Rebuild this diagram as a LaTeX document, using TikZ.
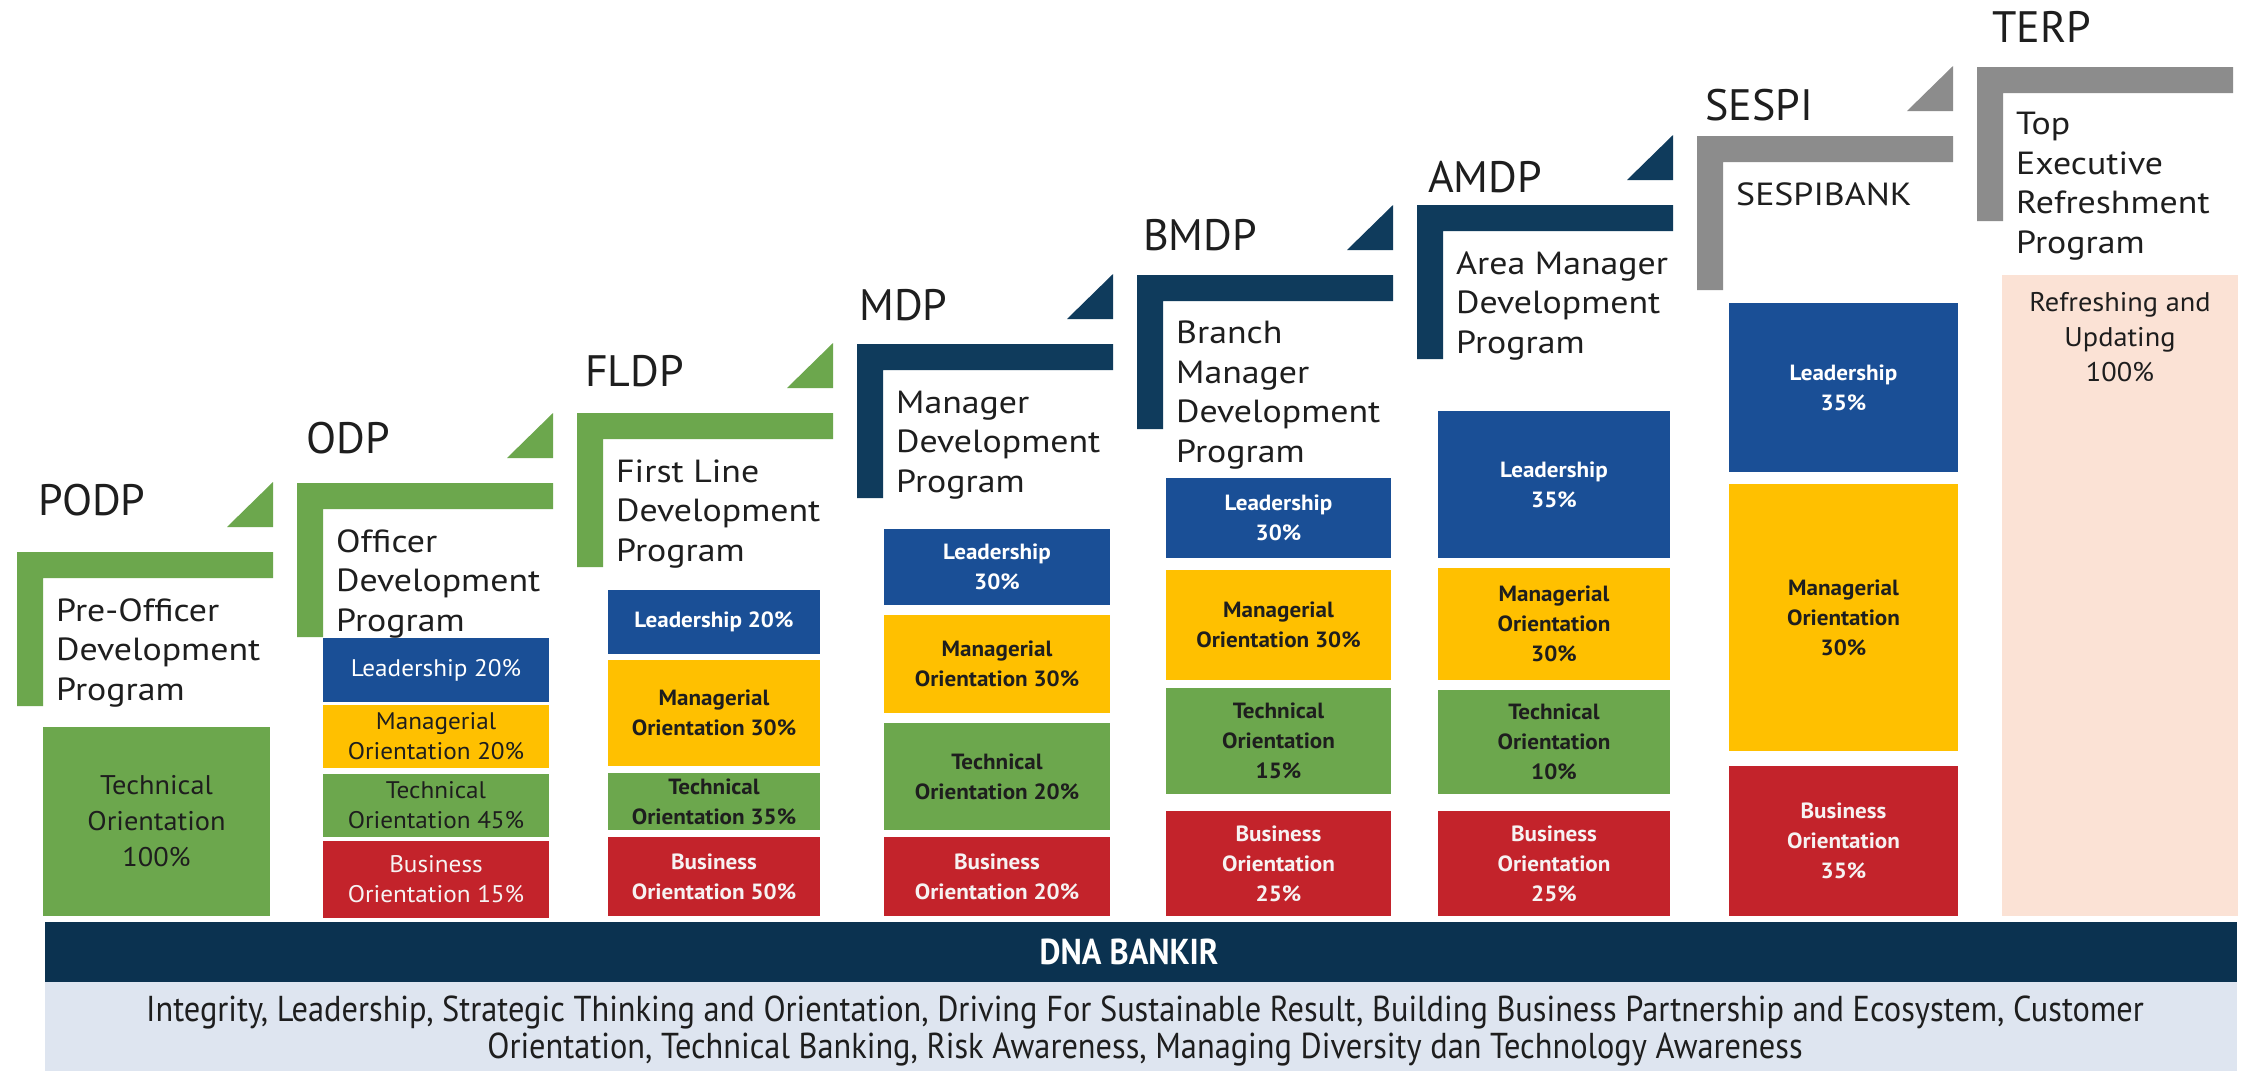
\documentclass[tikz,border=0pt]{standalone}
\usepackage{fontspec}
\setmainfont{PT Sans}
\newfontfamily\progfam[FakeStretch=1.12]{PT Sans}
\newfontfamily\cellfam[FakeStretch=1.05]{PT Sans}
\newfontfamily\narrowfam[FakeStretch=0.9]{PT Sans}
\definecolor{cgreen}{HTML}{6CA74D}
\definecolor{cblue}{HTML}{1A4F96}
\definecolor{cyellow}{HTML}{FFC000}
\definecolor{cred}{HTML}{C3232B}
\definecolor{cnavy}{HTML}{0F3B5C}
\definecolor{cdna}{HTML}{0B3250}
\definecolor{cgrey}{HTML}{8C8C8C}
\definecolor{cpeach}{HTML}{FBE2D5}
\definecolor{cband}{HTML}{DEE5F0}
\definecolor{ctxt}{HTML}{1E1E1E}
\definecolor{cwhite}{HTML}{F6F2F2}
\newcommand{\labfnt}{\fontsize{44}{48}\selectfont}
\newcommand{\progfnt}{\progfam\fontsize{32}{39.5}\selectfont}
\newcommand{\cellfnt}{\cellfam\bfseries\fontsize{22}{30}\selectfont}
\newcommand{\odpfnt}{\cellfam\fontsize{24}{30}\selectfont}
\newcommand{\podpfnt}{\cellfam\fontsize{27}{36}\selectfont}
\newcommand{\BRK}[3]{\fill[#3] (#1,#2) -- (#1+256,#2) -- (#1+256,#2+26) -- (#1+26,#2+26) -- (#1+26,#2+154) -- (#1,#2+154) -- cycle;}
\newcommand{\TRI}[3]{\fill[#3] (#1+256,#2-70) -- (#1+256,#2-25) -- (#1+210,#2-25) -- cycle;}
\newcommand{\CELL}[7]{\pgfmathsetmacro{\cellW}{#4-#2}\pgfmathsetmacro{\cellH}{#5-#3}%
  \node[#6,minimum width=\cellW pt,minimum height=\cellH pt] (#1) at ({(#2+#4)/2},{(#3+#5)/2}) {#7};}
\tikzset{
  lbl/.style={anchor=base west, inner sep=0pt, font=\labfnt, text=ctxt},
  prog/.style={anchor=base west, inner sep=0pt, align=left, font=\progfnt, text=ctxt},
  cell/.style={inner sep=0pt, align=center, draw=none, font=\cellfnt},
  lead/.style={cell, fill=cblue, text=white},
  mgr/.style={cell, fill=cyellow, text=ctxt},
  tech/.style={cell, fill=cgreen, text=ctxt},
  biz/.style={cell, fill=cred, text=cwhite},
}
\begin{document}
\begin{tikzpicture}[x=1pt,y=-1pt]
\useasboundingbox (0,0) rectangle (2244,1071);
\fill[white] (0,0) rectangle (2244,1071);
% brackets and triangles
\BRK{17}{552}{cgreen}   \TRI{17}{552}{cgreen}
\BRK{297}{483}{cgreen}  \TRI{297}{483}{cgreen}
\BRK{577}{413}{cgreen}  \TRI{577}{413}{cgreen}
\BRK{857}{344}{cnavy}   \TRI{857}{344}{cnavy}
\BRK{1137}{275}{cnavy}  \TRI{1137}{275}{cnavy}
\BRK{1417}{205}{cnavy}  \TRI{1417}{205}{cnavy}
\BRK{1697}{136}{cgrey}  \TRI{1697}{136}{cgrey}
\BRK{1977}{67}{cgrey}
% labels
\node[lbl] (lpodp) at (38,515) {PODP};
\node[lbl] (lodp) at (306,453) {ODP};
\node[lbl] (lfldp) at (585,386) {FLDP};
\node[lbl] (lmdp) at (859,320) {MDP};
\node[lbl] (lbmdp) at (1143,250) {BMDP};
\node[lbl] (lamdp) at (1428,192) {AMDP};
\node[lbl] (lsespi) at (1705,120) {SESPI};
\node[lbl] (lterp) at (1992,42) {TERP};
% program names (anchor = baseline of last line)
\node[prog] (ppodp) at (56,700) {Pre-Officer\\Development\\Program};
\node[prog] (podp) at (336,631) {Officer\\Development\\Program};
\node[prog] (pfldp) at (616,561) {First Line\\Development\\Program};
\node[prog] (pmdp) at (896,492) {Manager\\Development\\Program};
\node[prog] (pbmdp) at (1176,462) {Branch\\Manager\\Development\\Program};
\node[prog] (pamdp) at (1456,353) {Area Manager\\Development\\Program};
\node[prog] (psespi) at (1736,205) {SESPIBANK};
\node[prog] (pterp) at (2016,253) {Top\\Executive\\Refreshment\\Program};
% PODP
\CELL{podpT}{43}{727}{270}{916}{tech,font=\podpfnt}{Technical\\Orientation\\100\%}
% ODP
\CELL{odpL}{323}{638}{549}{702}{lead,font=\odpfnt}{Leadership 20\%}
\CELL{odpM}{323}{705}{549}{768}{mgr,font=\odpfnt}{Managerial\\Orientation 20\%}
\CELL{odpT}{323}{774}{549}{837}{tech,font=\odpfnt}{Technical\\Orientation 45\%}
\CELL{odpB}{323}{841}{549}{918}{biz,font=\odpfnt}{Business\\Orientation 15\%}
% FLDP
\CELL{fldpL}{608}{590}{820}{654}{lead}{Leadership 20\%}
\CELL{fldpM}{608}{660}{820}{766}{mgr}{Managerial\\Orientation 30\%}
\CELL{fldpT}{608}{773}{820}{830}{tech}{Technical\\Orientation 35\%}
\CELL{fldpB}{608}{837}{820}{916}{biz}{Business\\Orientation 50\%}
% MDP
\CELL{mdpL}{884}{529}{1110}{605}{lead}{Leadership\\30\%}
\CELL{mdpM}{884}{615}{1110}{713}{mgr}{Managerial\\Orientation 30\%}
\CELL{mdpT}{884}{723}{1110}{830}{tech}{Technical\\Orientation 20\%}
\CELL{mdpB}{884}{837}{1110}{916}{biz}{Business\\Orientation 20\%}
% BMDP
\CELL{bmdpL}{1166}{478}{1391}{558}{lead}{Leadership\\30\%}
\CELL{bmdpM}{1166}{570}{1391}{680}{mgr}{Managerial\\Orientation 30\%}
\CELL{bmdpT}{1166}{688}{1391}{794}{tech}{Technical\\Orientation\\15\%}
\CELL{bmdpB}{1166}{811}{1391}{916}{biz}{Business\\Orientation\\25\%}
% AMDP
\CELL{amdpL}{1438}{411}{1670}{558}{lead}{Leadership\\35\%}
\CELL{amdpM}{1438}{568}{1670}{680}{mgr}{Managerial\\Orientation\\30\%}
\CELL{amdpT}{1438}{690}{1670}{794}{tech}{Technical\\Orientation\\10\%}
\CELL{amdpB}{1438}{811}{1670}{916}{biz}{Business\\Orientation\\25\%}
% SESPI
\CELL{sespiL}{1729}{303}{1958}{472}{lead}{Leadership\\35\%}
\CELL{sespiM}{1729}{484}{1958}{751}{mgr}{Managerial\\Orientation\\30\%}
\CELL{sespiB}{1729}{766}{1958}{916}{biz}{Business\\Orientation\\35\%}
% TERP
\CELL{terpR}{2002}{275}{2238}{916}{cell,fill=cpeach}{}
\node[anchor=north, inner sep=0pt, align=center, text=ctxt, font=\cellfam\fontsize{27}{35}\selectfont] (terpT) at (2120,292) {Refreshing and\\Updating\\100\%};
% DNA bar
\node[fill=cdna, inner sep=0pt, minimum width=2192pt, minimum height=60pt] (dna) at (1141,952) {};
\node[inner sep=0pt, text=white, font=\narrowfam\bfseries\fontsize{36}{38}\selectfont] (dnat) at (1129,952) {DNA BANKIR};
\node[fill=cband, inner sep=0pt, minimum width=2192pt, minimum height=89pt] (band) at (1141,1026.5) {};
\node[inner sep=0pt, align=center, text=ctxt, font=\narrowfam\fontsize{36}{37}\selectfont] (vals) at (1145,1031) {Integrity, Leadership, Strategic Thinking and Orientation, Driving For Sustainable Result, Building Business Partnership and Ecosystem, Customer\\Orientation, Technical Banking, Risk Awareness, Managing Diversity dan Technology Awareness};
\end{tikzpicture}
\end{document}
